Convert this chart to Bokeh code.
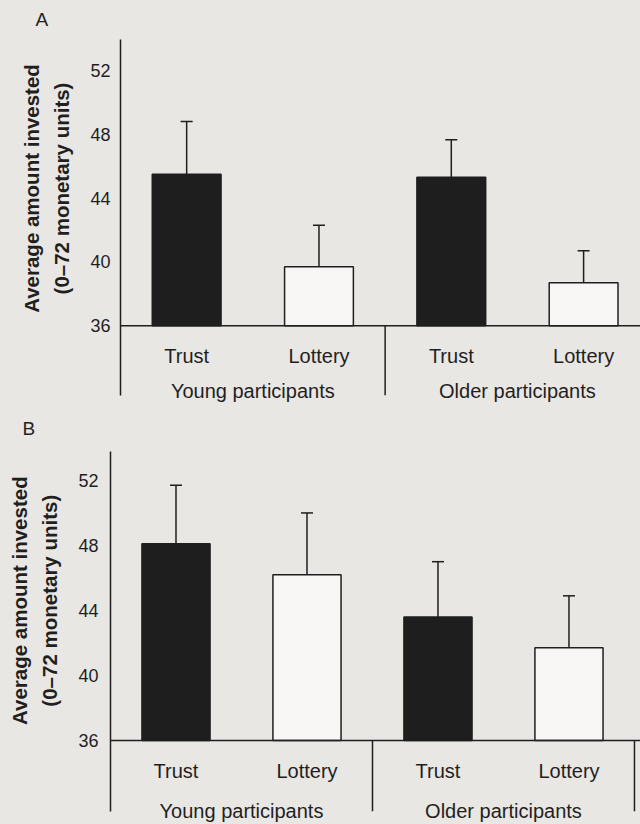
from math import pi
from bokeh.plotting import figure
from bokeh.models import (ColumnDataSource, Whisker, TeeHead, Span, FixedTicker,
                          Range1d, LinearAxis)
from bokeh.layouts import column
from bokeh.embed import file_html
from bokeh.resources import INLINE
from bokeh.core.properties import value

# ---- data ----
conditions = ["Trust", "Lottery", "Trust", "Lottery"]
age_groups = ["Young participants", "Young participants",
              "Older participants", "Older participants"]
panel_a_means = [45.5, 39.7, 45.3, 38.7]
panel_a_errors = [3.3, 2.6, 2.35, 2.0]
panel_b_means = [48.1, 46.2, 43.6, 41.7]
panel_b_errors = [3.6, 3.8, 3.4, 3.2]
y_ticks = [36, 40, 44, 48, 52]
y_base = 36
axis_title_lines = ["Average amount invested", "(0\u201372 monetary units)"]
panel_letters = ["A", "B"]

FONT = "Liberation Sans"
BG = "#e9e7e4"
INK = "#1f1f1f"


def plain_axis(ax):
    ax.axis_line_color = None
    ax.major_tick_line_color = None
    ax.minor_tick_line_color = None
    ax.major_tick_out = 0
    ax.major_tick_in = 0
    ax.minor_tick_out = 0
    ax.major_label_text_font = FONT
    ax.major_label_text_color = INK


def make_panel(letter, means, errors, cfg):
    xs = list(range(1, len(means) + 1))
    fills = ["#1e1e1e" if c == "Trust" else "#f8f7f5" for c in conditions]
    src = ColumnDataSource(dict(
        x=xs, top=means, lower=[m - e for m, e in zip(means, errors)],
        upper=[m + e for m, e in zip(means, errors)], fill=fills,
        cond=conditions, ylab=[cfg["cat_y"]] * len(xs)))

    y0, y1 = cfg["y_range"]
    p = figure(width=640, height=cfg["height"], output_backend="svg",
               toolbar_location=None, x_axis_type=None,
               x_range=Range1d(0.5, cfg["x_end"]), y_range=Range1d(y0, y1),
               min_border_top=cfg["top"], min_border_left=cfg["left"],
               min_border_right=0, min_border_bottom=cfg["bottom"],
               frame_align=False)
    p.background_fill_color = BG
    p.border_fill_color = BG
    p.outline_line_color = None
    p.grid.visible = False

    # panel letter
    p.title.text = letter
    p.title.align = "left"
    p.title.vertical_align = "top"
    p.title.offset = cfg["letter_offset"]
    p.title.standoff = cfg["letter_standoff"]
    p.title.text_font = FONT
    p.title.text_font_size = "19px"
    p.title.text_font_style = "normal"
    p.title.text_color = INK

    # numeric y axis
    ax = p.yaxis[0]
    ax.ticker = FixedTicker(ticks=y_ticks)
    plain_axis(ax)
    ax.axis_line_color = INK
    ax.axis_line_width = 1.5
    ax.major_label_standoff = cfg["standoff"]
    ax.major_label_text_font_size = "18px"

    # two-line bold axis title, one line per extra left axis (inner line first)
    title_pos = (y_ticks[0] + y_ticks[-1]) / 2 + 0.6
    for line, so in zip(reversed(axis_title_lines), cfg["title_standoffs"]):
        tax = LinearAxis(ticker=FixedTicker(ticks=[title_pos]),
                         major_label_overrides={title_pos: line})
        plain_axis(tax)
        tax.major_label_orientation = "parallel"
        tax.major_label_text_font_style = "bold"
        tax.major_label_text_font_size = "20.5px"
        tax.major_label_standoff = so
        p.add_layout(tax, "left")

    # group labels below the frame
    gx = [(xs[0] + xs[1]) / 2, (xs[2] + xs[3]) / 2]
    gax = LinearAxis(ticker=FixedTicker(ticks=gx),
                     major_label_overrides={gx[0]: age_groups[0], gx[1]: age_groups[2]})
    plain_axis(gax)
    gax.major_label_text_font_size = "20px"
    gax.major_label_standoff = cfg["group_standoff"]
    p.add_layout(gax, "below")

    p.vbar(x="x", top="top", bottom=y_base, width=0.52, source=src,
           fill_color="fill", line_color=INK, line_width=1.5)

    p.add_layout(Span(location=y_base, dimension="width",
                      line_color=INK, line_width=1.5))

    # separator between the two age groups, and closing line on the right
    sep_x = [(xs[1] + xs[2]) / 2]
    if cfg["right_line"]:
        sep_x.append(xs[-1] + 0.5)
    p.segment(x0=sep_x, y0=[y_base] * len(sep_x), x1=sep_x,
              y1=[y0] * len(sep_x), line_color=INK, line_width=1.5)

    p.add_layout(Whisker(source=src, base="x", lower="lower", upper="upper",
                         line_color=INK, line_width=1.5,
                         upper_head=TeeHead(size=12, line_color=INK, line_width=1.5),
                         lower_head=TeeHead(size=12, line_color=INK, line_width=1.5)))

    p.text(x="x", y="ylab", text="cond", source=src, text_font=value(FONT),
           text_font_size="20px", text_align="center",
           text_baseline="middle", text_color=INK)
    return p


cfg_a = dict(height=404, top=39, bottom=7, left=120, y_range=(31.64, 53.93),
             x_end=4.43, standoff=10, right_line=False, cat_y=34.1,
             group_standoff=-16, letter_offset=-85, letter_standoff=15,
             title_standoffs=(14, 4))
cfg_b = dict(height=420, top=47, bottom=13, left=110, y_range=(31.63, 53.78),
             x_end=4.546, standoff=12, right_line=True, cat_y=34.1,
             group_standoff=-12, letter_offset=-88, letter_standoff=22,
             title_standoffs=(14, 4))

pa = make_panel(panel_letters[0], panel_a_means, panel_a_errors, cfg_a)
pb = make_panel(panel_letters[1], panel_b_means, panel_b_errors, cfg_b)

layout = column(pa, pb, spacing=0, styles={"background-color": BG})
open("out.html", "w").write(file_html(layout, INLINE))
